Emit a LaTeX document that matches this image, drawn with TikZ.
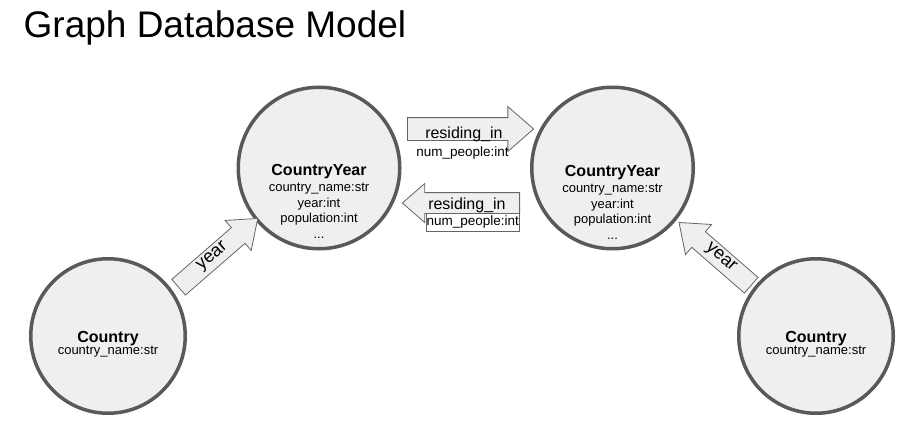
\documentclass[tikz,border=0pt]{standalone}
\usepackage{fontspec}
\setmainfont{Liberation Sans}
\usetikzlibrary{shapes.arrows,positioning}
\definecolor{rimgray}{HTML}{595959}
\definecolor{nodefill}{HTML}{EFEFEF}
\definecolor{arrowgray}{HTML}{666666}

\begin{document}
\begin{tikzpicture}[x=1pt, y=-1pt,
  entity/.style = {draw=rimgray, fill=nodefill, circle, line width=3.5pt, inner sep=0pt},
  attrs/.style = {align=center, inner sep=0pt, anchor=north, font=\fontsize{13}{15.5}\selectfont},
  relarrow/.style = {single arrow, draw=arrowgray, fill=nodefill, line width=0.8pt, inner xsep=0pt, inner ysep=0pt, align=center, anchor=tail, single arrow tip angle=82, font=\fontsize{16}{16}\selectfont},
  yeararrow/.style = {relarrow, single arrow tip angle=75, single arrow head extend=9.5pt, text height=9.5pt, text depth=4.5pt, inner ysep=3pt, font=\fontsize{18}{18}\selectfont}]

  \path[fill=white, use as bounding box] (0,0) rectangle (923,436);
  \node[inner sep=0pt, anchor=base west, font=\fontsize{37}{37}\selectfont] (title) at (23.5,37.5) {Graph Database Model};

  % entities
  \node[entity, minimum size=161.5pt] (cyl) at (319,168) {};
  \node[entity, minimum size=161.5pt] (cyr) at (612.5,168) {};
  \node[entity, minimum size=154.5pt] (cl) at (108,336) {};
  \node[entity, minimum size=154.5pt] (cr) at (816,336) {};

  \node[attrs] (cyltxt) at (319,164) {\textbf{\fontsize{16}{16}\selectfont CountryYear}\\[1pt] country\_name:str\\ year:int\\ population:int\\ ...};
  \node[attrs] (cyrtxt) at (612.5,165) {\textbf{\fontsize{16}{16}\selectfont CountryYear}\\[1pt] country\_name:str\\ year:int\\ population:int\\ ...};
  \node[attrs, font={\fontsize{13}{12}\selectfont\lineskiplimit=-5pt}] (cltxt) at (108,331) {\textbf{\fontsize{16}{16}\selectfont Country}\\ country\_name:str};
  \node[attrs, font={\fontsize{13}{12}\selectfont\lineskiplimit=-5pt}] (crtxt) at (816,331) {\textbf{\fontsize{16}{16}\selectfont Country}\\ country\_name:str};

  % relations
  \node[relarrow, single arrow head extend=11pt, text height=20.5pt, text depth=1.5pt, text width=112.3pt] (restop) at (407,129) {residing\_in};
  \node[relarrow, single arrow head extend=9pt, shape border rotate=180, text height=16.3pt, text depth=3.7pt, text width=104.5pt] (resbot) at (520,203) {residing\_in};
  \node[inner sep=0pt, font=\fontsize{13.5}{13.5}\selectfont] (numtop) at (462.5,153) {num\_people:int};
  \node[draw=arrowgray, fill=white, line width=0.6pt, minimum width=93pt, minimum height=18.5pt, inner sep=0pt, font=\fontsize{13.5}{13.5}\selectfont] (numbot) at (472.7,222.5) {num\_people:int};

  \node[yeararrow, text width=90.5pt, rotate=41] (yearl) at (178.3,287.5) {year};
  \node[yeararrow, text width=81.3pt, rotate=-41, shape border rotate=180] (yearr) at (751.5,285.5) {year};
\end{tikzpicture}
\end{document}
